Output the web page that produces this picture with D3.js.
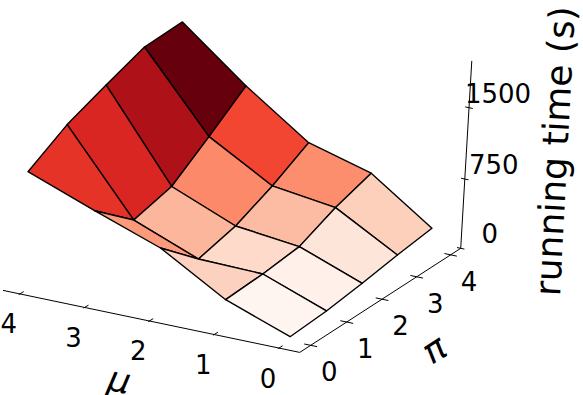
<!DOCTYPE html>
<html>
<head>
<meta charset="utf-8">
<script src="https://cdnjs.cloudflare.com/ajax/libs/d3/7.8.5/d3.min.js"></script>
<style>
  html, body { margin: 0; padding: 0; background: #fff; overflow: hidden; }
  text { font-family: "DejaVu Sans", sans-serif; fill: #000; }
</style>
</head>
<body>
<div id="viz"></div>
<script>
var muValues = [0, 1, 2, 3, 4];
var piValues = [0, 1, 2, 3, 4];
var timeTicks = [0, 750, 1500];

// running time in seconds, one row per mu, one column per pi
var timeMu0 = [46, 73, 126, 191, 244];
var timeMu1 = [296, 325, 377, 558, 695];
var timeMu2 = [695, 341, 454, 647, 879];
var timeMu3 = [938, 609, 729, 1024, 1332];
var timeMu4 = [1195, 1448, 1631, 1802, 1848];
var times = [timeMu0, timeMu1, timeMu2, timeMu3, timeMu4];

var redsRamp = ['#fff5f0', '#fee0d2', '#fcbba1', '#fc9272', '#fb6a4a', '#ef3b2c', '#cb181d', '#a50f15', '#67000d'];

var WIDTH = 583;
var HEIGHT = 395;

// Axis ends, in data units, where the box corners fall
var MU_NEAR = -0.32, MU_FAR = 4.26;
var PI_NEAR = -0.3, PI_FAR = 4.3;
var TIME_TOP = 1980;

// Each scale gives the contribution of one data axis to the projection
var muX = d3.scaleLinear().domain([0, 4]).range([0, -258.4]);
var muY = d3.scaleLinear().domain([0, 4]).range([0, -54]);
var piX = d3.scaleLinear().domain([0, 4]).range([0, 158]);
var piY = d3.scaleLinear().domain([0, 4]).range([0, -80.3]);
var piW = d3.scaleLinear().domain([0, 4]).range([0, 0.04]);
var timeX = d3.scaleLinear().domain([0, 1500]).range([0, -5.4]);
var timeY = d3.scaleLinear().domain([0, 1500]).range([0, -149.9]);
var timeW = d3.scaleLinear().domain([0, 1500]).range([0, -0.03]);

function project(mu, pi, t) {
  var w = 1 + piW(pi) + timeW(t);
  return [(290 + muX(mu) + piX(pi) + timeX(t)) / w,
          (341 + muY(mu) + piY(pi) + timeY(t)) / w];
}

var svg = d3.select('#viz')
  .append('svg')
  .attr('width', WIDTH)
  .attr('height', HEIGHT)
  .style('display', 'block');

// Build the faces of the surface
var faces = [];
for (var i = 0; i < muValues.length - 1; i++) {
  for (var j = 0; j < piValues.length - 1; j++) {
    var corners = [[i, j], [i + 1, j], [i + 1, j + 1], [i, j + 1]];
    faces.push({
      mu: i,
      pi: j,
      mean: d3.mean(corners, function(c) { return times[c[0]][c[1]]; }),
      points: corners.map(function(c) { return project(muValues[c[0]], piValues[c[1]], times[c[0]][c[1]]); })
    });
  }
}

var color = d3.scaleSequential(d3.piecewise(d3.interpolateRgb, redsRamp))
  .domain(d3.extent(faces, function(d) { return d.mean; }));

// far faces first so the near ones paint over them
faces.sort(function(a, b) { return (b.mu + b.pi) - (a.mu + a.pi); });

var line = d3.line();

function segment(a, b) {
  svg.append('path')
    .attr('d', line([a, b]))
    .attr('fill', 'none')
    .attr('stroke', '#000')
    .attr('stroke-width', 1);
}

function label(p, dx, dy, txt, size) {
  return svg.append('text')
    .attr('x', p[0] + dx)
    .attr('y', p[1] + dy)
    .attr('text-anchor', 'middle')
    .attr('dominant-baseline', 'central')
    .style('font-size', size + 'px')
    .text(txt);
}

// axes
segment(project(MU_FAR, PI_NEAR, 0), project(MU_NEAR, PI_NEAR, 0));
segment(project(MU_NEAR, PI_NEAR, 0), project(MU_NEAR, PI_FAR, 0));
segment(project(MU_NEAR, PI_FAR, 0), project(MU_NEAR, PI_FAR, TIME_TOP));

muValues.forEach(function(m) {
  segment(project(m, PI_NEAR - 0.03, 0), project(m, PI_NEAR + 0.1, 0));
  label(project(m, PI_NEAR, 0), -11, 30.5, m, 26);
});
piValues.forEach(function(p) {
  segment(project(MU_NEAR - 0.1, p, 0), project(MU_NEAR + 0.1, p, 0));
  label(project(MU_NEAR, p, 0), 18.5, 27, p, 26);
});
timeTicks.forEach(function(t) {
  segment(project(MU_NEAR - 0.06, PI_FAR, t), project(MU_NEAR + 0.06, PI_FAR, t));
  label(project(MU_NEAR, PI_FAR, t), 29, -14, t, 26);
});

// surface
svg.selectAll('.face')
  .data(faces)
  .enter()
  .append('path')
  .attr('class', 'face')
  .attr('d', function(d) { return line(d.points) + 'Z'; })
  .attr('fill', function(d) { return color(d.mean); })
  .attr('stroke', '#000')
  .attr('stroke-width', 1.4)
  .attr('stroke-linejoin', 'round');

// axis titles
var muTitle = project(2, PI_NEAR, 0);
label(muTitle, -30, 59, 'μ', 35)
  .style('font-style', 'italic')
  .attr('transform', 'rotate(12,' + (muTitle[0] - 30) + ',' + (muTitle[1] + 59) + ')');

var piTitle = project(MU_NEAR, 2, 0);
label(piTitle, 52, 50, 'π', 35)
  .style('font-style', 'italic')
  .attr('transform', 'rotate(-33,' + (piTitle[0] + 52) + ',' + (piTitle[1] + 50) + ')');

svg.append('text')
  .attr('text-anchor', 'middle')
  .attr('dominant-baseline', 'central')
  .attr('transform', 'translate(555,151) rotate(-87)')
  .style('font-size', '36px')
  .text('running time (s)');
</script>
</body>
</html>
